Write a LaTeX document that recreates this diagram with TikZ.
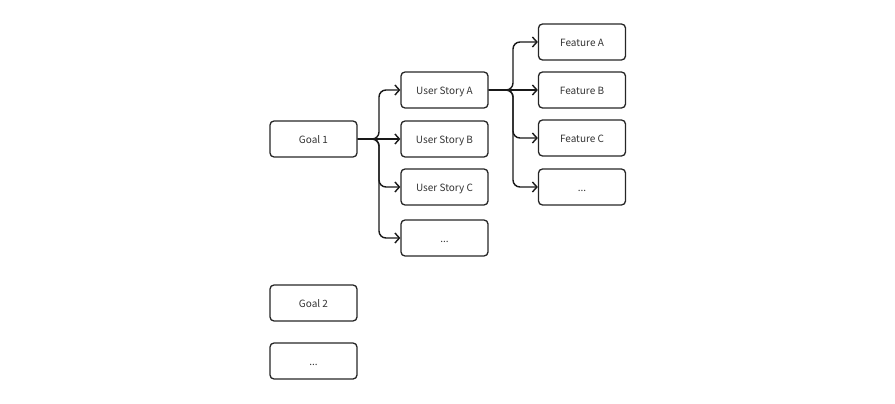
\documentclass[tikz,border=0pt]{standalone}
\usepackage{fontspec}
\setmainfont{Noto Sans CJK SC}
\usetikzlibrary{arrows.meta,calc}
\begin{document}
\begin{tikzpicture}[x=1pt,y=-1pt,
  box/.style={draw=black!85, line width=1.3pt, rounded corners=4pt, minimum width=87pt, minimum height=36pt, inner sep=0pt, text height=9.5pt, text depth=1pt, font=\fontsize{10}{12}\selectfont, text=black!80},
  conn/.style={draw=black!90, line width=1.4pt, rounded corners=7pt, -{Straight Barb[length=4.5pt,width=10pt,line width=1.4pt]}}]
\useasboundingbox (0,0) rectangle (895,404);
\node[box] (g1) at (313.5,139) {Goal 1};
\node[box] (usa) at (444.5,90) {User Story A};
\node[box] (usb) at (444.5,139) {User Story B};
\node[box] (usc) at (444.5,187) {User Story C};
\node[box] (usd) at (444.5,238) {...};
\node[box] (fa) at (582,42) {Feature A};
\node[box] (fb) at (582,90) {Feature B};
\node[box] (fc) at (582,138) {Feature C};
\node[box] (fd) at (582,187) {...};
\node[box] (g2) at (313.5,303) {Goal 2};
\node[box] (g3) at (313.5,361) {...};
\coordinate (t1) at (379,139);
\coordinate (t2) at (513,90);
\draw[conn] (g1.east) -- (t1) |- (usa.west);
\draw[conn] (g1.east) -- (usb.west);
\draw[conn] (g1.east) -- (t1) |- (usc.west);
\draw[conn] (g1.east) -- (t1) |- (usd.west);
\draw[conn] (usa.east) -- (t2) |- (fa.west);
\draw[conn] (usa.east) -- (fb.west);
\draw[conn] (usa.east) -- (t2) |- (fc.west);
\draw[conn] (usa.east) -- (t2) |- (fd.west);
\end{tikzpicture}
\end{document}
